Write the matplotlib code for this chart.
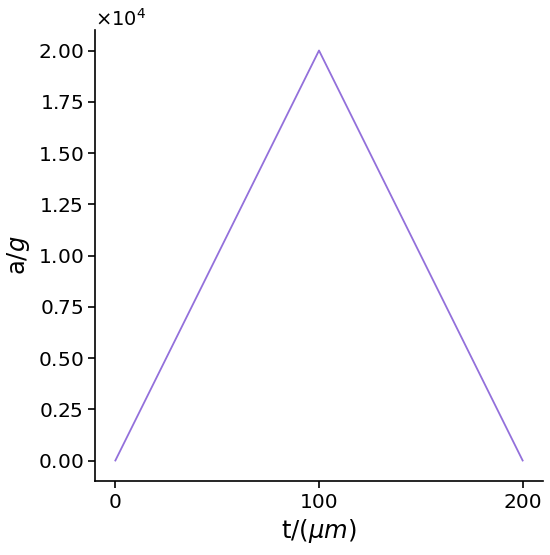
import matplotlib
matplotlib.use("Agg")
import matplotlib.pyplot as plt

t = [0, 100, 200]
a = [0, 20000, 0]

fig = plt.figure(figsize=(5.5, 5.55), dpi=100)
ax = fig.add_axes([95/550, 1-481/555, (543-95)/550, (481-30)/555])
ax.plot(t, a, color='mediumpurple', linewidth=1.3)
ax.set_xticks([0, 100, 200])
ax.ticklabel_format(axis='y', style='sci', scilimits=(0, 0), useMathText=True)
ax.yaxis.get_offset_text().set_fontsize(14)
ax.tick_params(labelsize=14.5, width=1.2, length=5)
for s in ['top', 'right']:
    ax.spines[s].set_visible(False)
for s in ['left', 'bottom']:
    ax.spines[s].set_linewidth(1.2)
ax.set_xlabel(r't/($\mu m$)', fontsize=17.5)
ax.set_ylabel(r'a/$g$', fontsize=17.5)
fig.savefig('out.png', dpi=100)
